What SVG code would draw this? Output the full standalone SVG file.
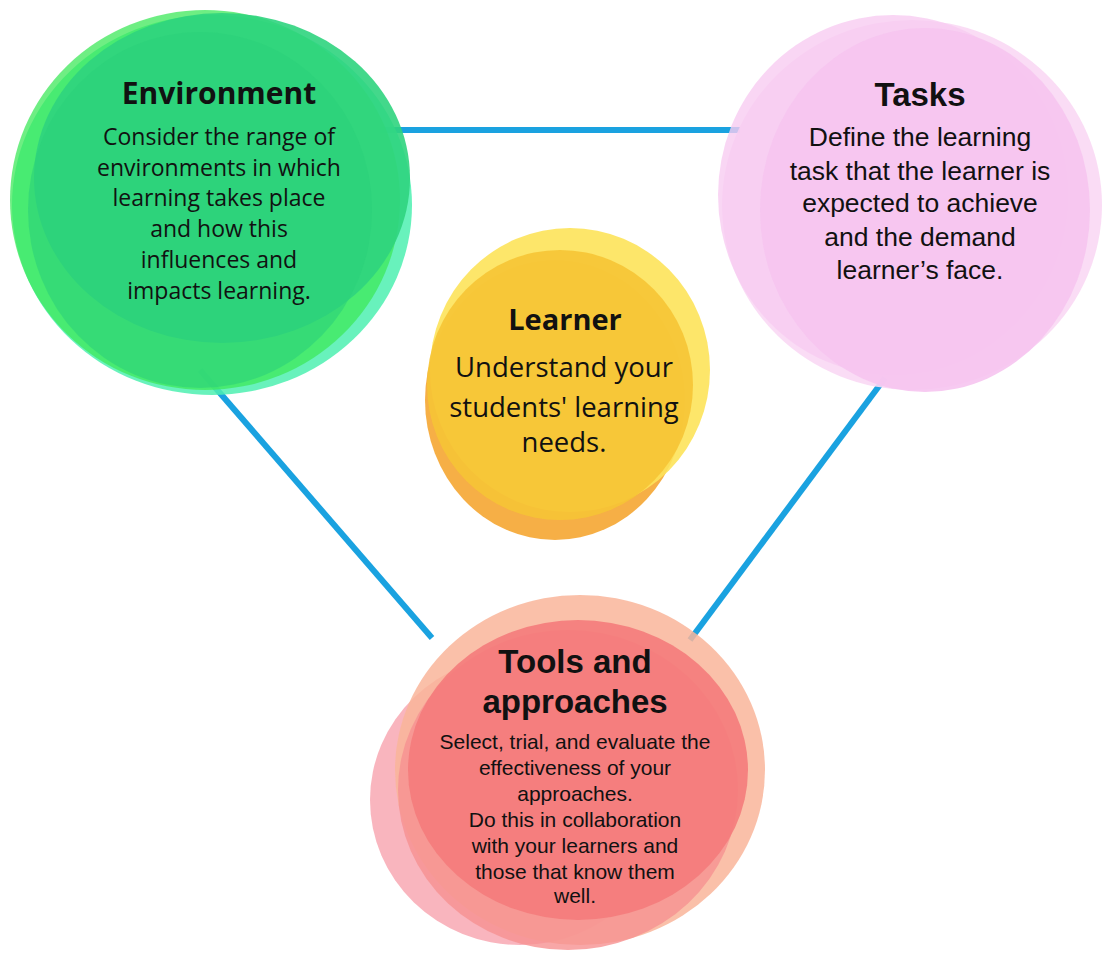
<svg xmlns="http://www.w3.org/2000/svg" width="1103" height="958" viewBox="0 0 1103 958">
<style>
.t1{font-family:"Open Sans","DejaVu Sans",sans-serif;font-weight:bold;fill:#111;text-anchor:middle}
.b1{font-family:"Open Sans","DejaVu Sans",sans-serif;fill:#111;text-anchor:middle}
.t2{font-family:"Liberation Sans",Arial,sans-serif;font-weight:bold;fill:#111;text-anchor:middle}
.b2{font-family:"Liberation Sans",Arial,sans-serif;fill:#111;text-anchor:middle}
.conn{stroke:#1aa2e0;stroke-width:6;fill:none}
</style>
<rect width="1103" height="958" fill="#ffffff"/>
<g id="connectors">
<line class="conn" x1="380" y1="130" x2="740" y2="130"/>
<line class="conn" x1="200" y1="370" x2="432" y2="638"/>
<line class="conn" x1="885" y1="378" x2="690" y2="640"/>
</g>
<g id="environment">
<ellipse cx="212" cy="205" rx="200" ry="190" fill="#4ef0b0" opacity="0.85"/>
<ellipse cx="205" cy="200" rx="195" ry="190" fill="#3ee85a" opacity="0.75"/>
<ellipse cx="222" cy="178" rx="188" ry="165" fill="#2fd47e" opacity="0.9"/>
<ellipse cx="200" cy="210" rx="172" ry="178" fill="#2cd07a" opacity="0.6"/>
<text class="t1" x="219" y="104" font-size="30">Environment</text>
<text class="b1" font-size="23"><tspan x="219" y="145">Consider the range of</tspan><tspan x="219" y="176">environments in which</tspan><tspan x="219" y="206">learning takes place</tspan><tspan x="219" y="237">and how this</tspan><tspan x="219" y="268">influences and</tspan><tspan x="219" y="299">impacts learning.</tspan></text>
</g>
<g id="tasks">
<ellipse cx="912" cy="205" rx="190" ry="185" fill="#f9d8f4" opacity="0.9"/>
<ellipse cx="893" cy="195" rx="175" ry="180" fill="#f8ccf1" opacity="0.8"/>
<ellipse cx="925" cy="210" rx="165" ry="182" fill="#f6c4f0" opacity="0.9"/>
<text class="t2" x="920" y="106" font-size="33">Tasks</text>
<text class="b2" font-size="26.5"><tspan x="920" y="146">Define the learning</tspan><tspan x="920" y="180">task that the learner is</tspan><tspan x="920" y="212">expected to achieve</tspan><tspan x="920" y="246">and the demand</tspan><tspan x="920" y="279">learner’s face.</tspan></text>
</g>
<g id="learner">
<ellipse cx="555" cy="400" rx="130" ry="140" fill="#f5a632" opacity="0.9"/>
<ellipse cx="570" cy="370" rx="140" ry="142" fill="#fde35a" opacity="0.9"/>
<ellipse cx="560" cy="385" rx="133" ry="135" fill="#f6c435" opacity="0.9"/>
<text class="t1" x="565" y="330" font-size="29">Learner</text>
<text class="b1" font-size="27.5"><tspan x="564" y="377">Understand your</tspan><tspan x="564" y="417">students' learning</tspan><tspan x="564" y="452">needs.</tspan></text>
</g>
<g id="tools">
<ellipse cx="520" cy="800" rx="150" ry="145" fill="#f7a2ae" opacity="0.8"/>
<ellipse cx="580" cy="770" rx="185" ry="175" fill="#f9b59a" opacity="0.85"/>
<ellipse cx="568" cy="790" rx="170" ry="160" fill="#f69191" opacity="0.8"/>
<ellipse cx="578" cy="770" rx="170" ry="150" fill="#f47b7b" opacity="0.9"/>
<text class="t2" font-size="33"><tspan x="575" y="673">Tools and</tspan><tspan x="575" y="713">approaches</tspan></text>
<text class="b2" font-size="21"><tspan x="575" y="749">Select, trial, and evaluate the</tspan><tspan x="575" y="775">effectiveness of your</tspan><tspan x="575" y="801">approaches.</tspan><tspan x="575" y="827">Do this in collaboration</tspan><tspan x="575" y="853">with your learners and</tspan><tspan x="575" y="879">those that know them</tspan><tspan x="575" y="903">well.</tspan></text>
</g>
</svg>
